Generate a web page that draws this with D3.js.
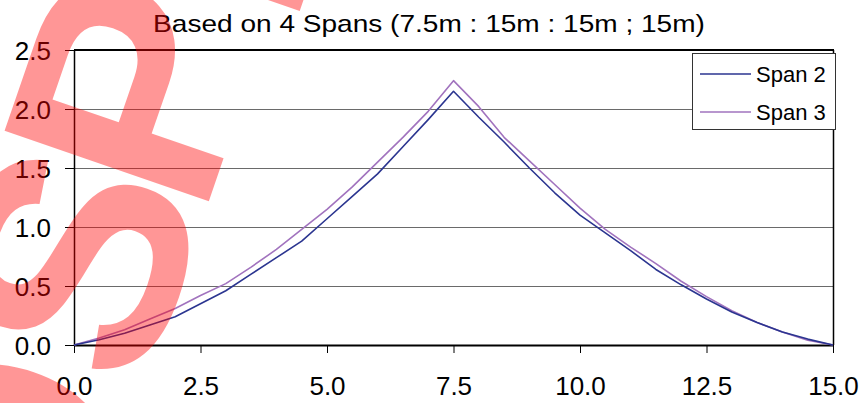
<!DOCTYPE html>
<html>
<head>
<meta charset="utf-8">
<script src="https://cdn.jsdelivr.net/npm/d3@7"></script>
<style>
  html, body { margin: 0; padding: 0; background: #fff; }
  svg { display: block; }
  text { font-family: "Liberation Sans", Arial, sans-serif; }
</style>
</head>
<body>
<svg id="chart" width="865" height="403"></svg>
<script>
// ---- data ----
const xValues = [0, 0.5, 1, 1.5, 2, 2.5, 3, 3.5, 4, 4.5, 5, 5.5, 6, 6.5, 7, 7.5,
                 8, 8.5, 9, 9.5, 10, 10.5, 11, 11.5, 12, 12.5, 13, 13.5, 14, 14.5, 15];
const span2 = [0, 0.045, 0.10, 0.17, 0.24, 0.35, 0.46, 0.60, 0.74, 0.88, 1.07, 1.26, 1.45, 1.68, 1.91, 2.15,
               1.93, 1.72, 1.50, 1.29, 1.10, 0.95, 0.80, 0.64, 0.51, 0.39, 0.28, 0.19, 0.11, 0.05, 0];
const span3 = [0, 0.06, 0.13, 0.22, 0.31, 0.42, 0.52, 0.66, 0.81, 0.98, 1.15, 1.34, 1.55, 1.76, 1.98, 2.24,
               2.02, 1.76, 1.56, 1.36, 1.16, 0.98, 0.83, 0.69, 0.54, 0.41, 0.29, 0.19, 0.11, 0.04, 0];
const seriesNames = ["Span 2", "Span 3"];
const xTicks = [0, 2.5, 5, 7.5, 10, 12.5, 15];
const yTicks = [0, 0.5, 1.0, 1.5, 2.0, 2.5];
const title = "Based on 4 Spans (7.5m : 15m : 15m ; 15m)";
const watermarkBefore = "OS";
const watermarkP = "P";
const watermarkAfter = "E";

// ---- layout ----
const svg = d3.select("#chart");
const L = 74, R = 833, T = 50, B = 345;
const x = d3.scaleLinear().domain([0, 15]).range([L, R]);
const y = d3.scaleLinear().domain([0, 2.5]).range([B, T]);
const colors = ["#2B3590", "#A173BE"];

// title (glyphs are horizontally stretched in the reference)
const tt = svg.append("text").attr("x", 0).attr("y", 0).attr("text-anchor", "middle")
  .attr("font-size", 24).attr("fill", "#000").text(title);
const tw = tt.node().getComputedTextLength();
tt.attr("transform", `translate(429,32) scale(${552 / tw},1)`);

// gridlines
svg.append("g").selectAll("line").data(yTicks.filter(d => d > 0 && d < 2.5)).join("line")
  .attr("x1", L).attr("x2", R).attr("y1", d => Math.round(y(d)) + 0.5).attr("y2", d => Math.round(y(d)) + 0.5)
  .attr("stroke", "#6a6a6a").attr("stroke-width", 1);

// plot border (top/right)
svg.append("line").attr("x1", L).attr("x2", R + 1).attr("y1", T).attr("y2", T)
  .attr("stroke", "#000").attr("stroke-width", 2);
svg.append("line").attr("x1", R + 0.5).attr("x2", R + 0.5).attr("y1", T).attr("y2", B)
  .attr("stroke", "#000").attr("stroke-width", 1.5);

// axes
const xAxis = d3.axisBottom(x).tickValues(xTicks).tickFormat(d3.format(".1f")).tickSize(8).tickSizeOuter(0);
const gx = svg.append("g").attr("transform", `translate(0,${B})`).call(xAxis);
gx.select(".domain").attr("stroke", "#000").attr("stroke-width", 2);
gx.selectAll(".tick line").attr("stroke", "#000").attr("stroke-width", 1);
gx.selectAll(".tick text").attr("font-size", 26).attr("fill", "#000")
  .attr("font-family", "'Liberation Sans', Arial, sans-serif").attr("dy", null).attr("y", 50);

const yAxis = d3.axisLeft(y).tickValues(yTicks).tickFormat(d3.format(".1f")).tickSize(9).tickSizeOuter(0);
const gy = svg.append("g").attr("transform", `translate(${L},0)`).call(yAxis);
gy.select(".domain").attr("stroke", "#000").attr("stroke-width", 1.5);
gy.selectAll(".tick line").attr("stroke", "#000").attr("stroke-width", 1);
gy.selectAll(".tick text").attr("font-size", 26).attr("fill", "#000")
  .attr("font-family", "'Liberation Sans', Arial, sans-serif").attr("x", -23).attr("dy", "0.35em");

// lines
const line = d3.line().x((d, i) => x(xValues[i])).y(d => y(d));
[span3, span2].forEach((s, k) => {
  svg.append("path").datum(s).attr("d", line).attr("fill", "none")
    .attr("stroke", k === 0 ? colors[1] : colors[0]).attr("stroke-width", 1.6)
    .attr("stroke-linejoin", "round");
});

// legend
const lg = svg.append("g");
lg.append("rect").attr("x", 692.5).attr("y", 53.5).attr("width", 143).attr("height", 76)
  .attr("fill", "#fff").attr("stroke", "#333").attr("stroke-width", 1);
seriesNames.forEach((n, i) => {
  const yy = 74 + i * 38;
  lg.append("line").attr("x1", 700).attr("x2", 751).attr("y1", yy).attr("y2", yy)
    .attr("stroke", colors[i]).attr("stroke-width", 1.6);
  lg.append("text").attr("x", 756).attr("y", yy + 8).attr("font-size", 22).attr("fill", "#000").text(n);
});

// watermark
const ang = -71;
const ox = 202, oy = 221;
const wm = svg.append("g").attr("transform", `translate(${ox},${oy}) rotate(${ang})`)
  .attr("fill", "#ff0000").attr("fill-opacity", 0.41)
  .attr("font-size", 314).attr("font-weight", "bold");
wm.append("text").attr("x", 25).attr("y", 0).attr("text-anchor", "end").text(watermarkBefore);
const wt = wm.append("text").attr("x", 0).attr("y", 0).attr("text-anchor", "start");
wt.append("tspan").text(watermarkP);
wt.append("tspan").attr("dy", 24).text(watermarkAfter);
</script>
</body>
</html>
